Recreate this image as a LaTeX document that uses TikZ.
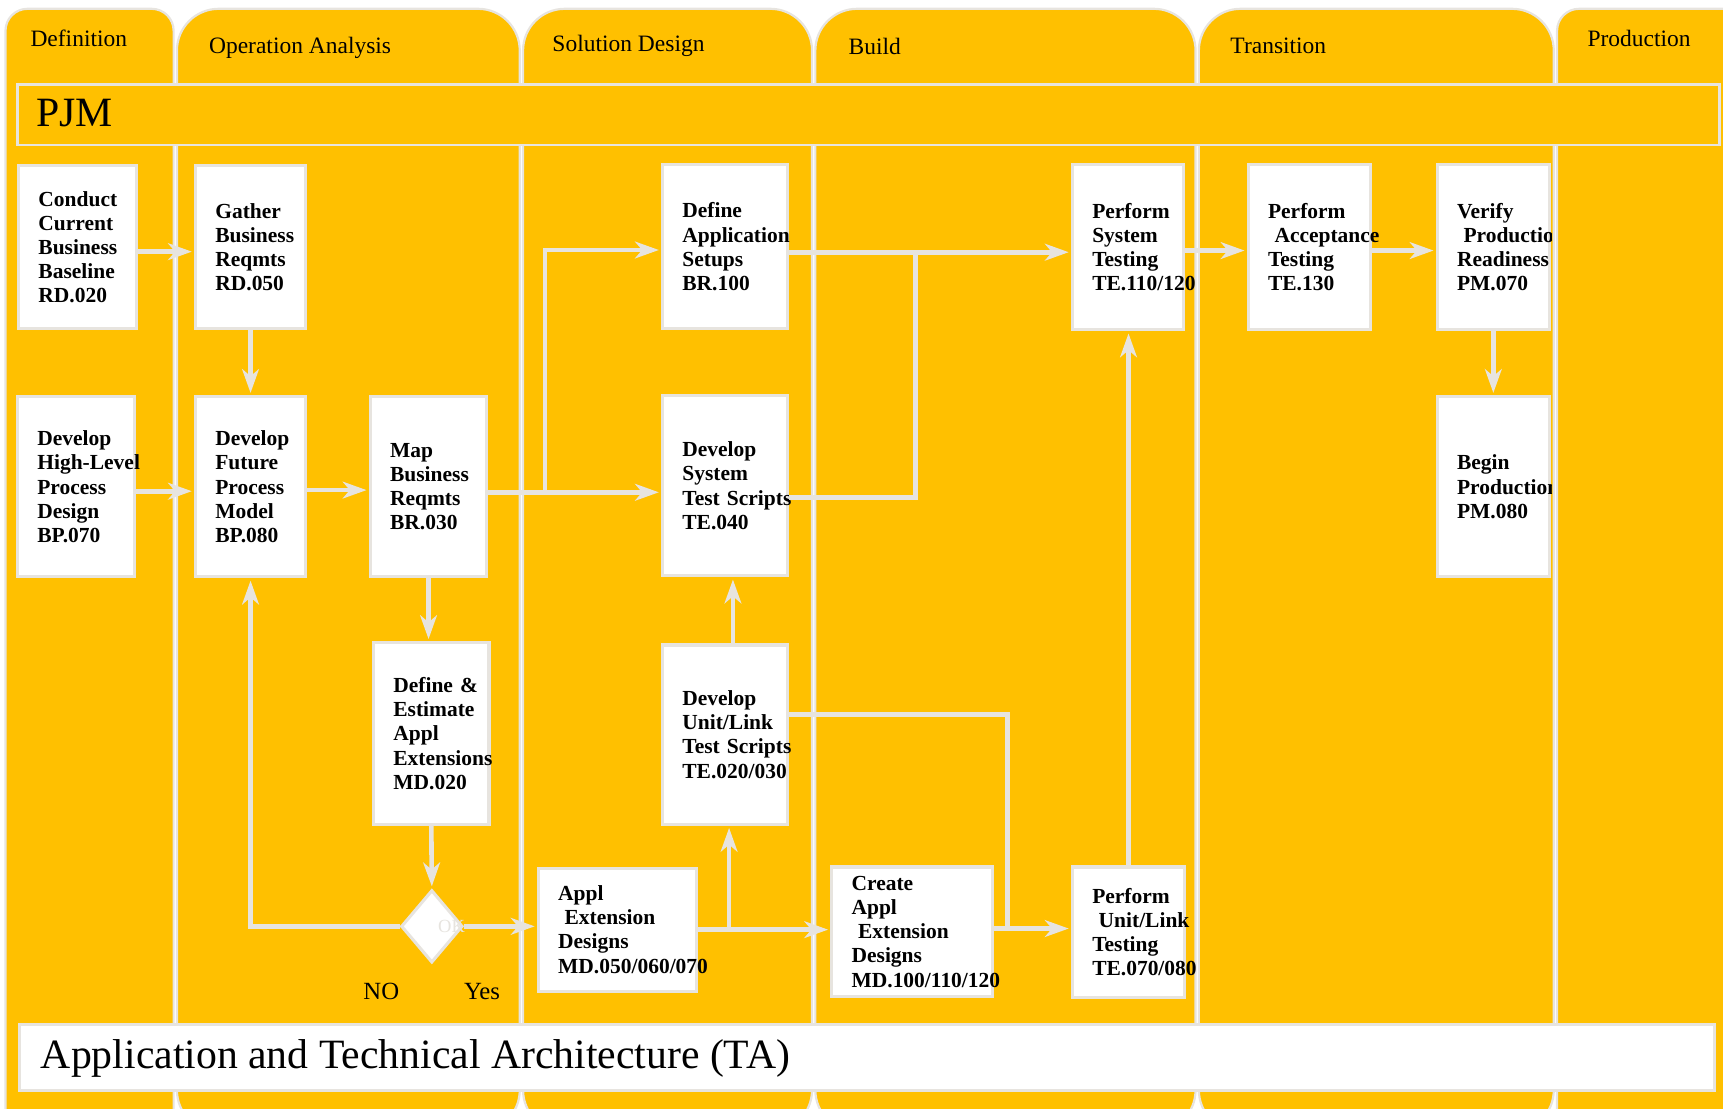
\documentclass[tikz,border=0pt]{standalone}
\usepackage{fontspec}
\setmainfont{Liberation Serif}
\usetikzlibrary{shapes.geometric,arrows.meta,positioning,calc}

\definecolor{phasegold}{HTML}{FFC000}
\definecolor{laneline}{HTML}{E7E4DF}

\tikzset{
  lane/.style={fill=phasegold, draw=laneline, line width=0.5mm},
  phase/.style={anchor=base west, inner sep=0pt, font=\fontsize{15.2}{18}\selectfont},
  taskbox/.style={draw=laneline, fill=white, line width=0.7mm, align=left, inner xsep=4.5mm, inner ysep=0pt,
    font={\bfseries\fontsize{13.9}{15.6}\selectfont\hyphenpenalty10000\exhyphenpenalty10000\relax}},
  flow/.style={draw=laneline, line width=1.05mm, -{Stealth[length=5.4mm, width=3.8mm, inset=1.6mm]}, shorten >=0.5mm},
  link/.style={draw=laneline, line width=1.05mm},
}

\begin{document}
\begin{tikzpicture}[x=0.025cm, y=-0.025cm]
    \useasboundingbox (0,0) rectangle (1568,1009);
    \clip (0,0) rectangle (1568,1009);

    % Phases
    \draw[lane, rounded corners=5mm] (5,8) rectangle (158,1030);
    \draw[lane, rounded corners=9.5mm] (161,8) rectangle (473,1030);
    \draw[lane, rounded corners=9.5mm] (476,8) rectangle (739,1030);
    \draw[lane, rounded corners=9.5mm] (742,8) rectangle (1088,1030);
    \draw[lane, rounded corners=9.5mm] (1091,8) rectangle (1414,1030);
    \draw[lane, rounded corners=5mm] (1417,8) rectangle (1600,1030);
    \node[phase] (defhead) at (27.5,42.5) {Definition};
    \node[phase] (opahead) at (190,48.5) {Operation Analysis};
    \node[phase] (solhead) at (502.5,47) {Solution Design};
    \node[phase] (buildhead) at (772,50) {Build};
    \node[phase] (transhead) at (1119.5,48.5) {Transition};
    \node[phase] (prodhead) at (1444.5,42.5) {Production};

    % Bands
    \draw[lane, line width=0.6mm] (16,77) rectangle (1565,132);
    \node[anchor=base west, inner sep=0pt, font=\fontsize{27}{32}\selectfont] (pjm) at (33,115) {PJM};
    \draw[draw=laneline, fill=white, line width=0.7mm] (18,932) rectangle (1560,992);
    \node[anchor=base west, inner sep=0pt, font=\fontsize{27}{32}\selectfont] (tarch) at (37,972) {Application and Technical Architecture (TA)};

    % Tasks, top row
    \node[taskbox, text width=17.75mm, minimum height=37mm] (conduct) at (70.5,225) {Conduct\\Current\\Business\\Baseline\\RD.020};
    \node[taskbox, text width=16mm, minimum height=37mm] (gather) at (228,225) {Gather\\Business\\Reqmts\\RD.050};
    \node[taskbox, text width=19.5mm, minimum height=37.25mm] (setups) at (660,224.5) {Define\\Application\\Setups\\BR.100};
    \node[taskbox, text width=16.25mm, minimum height=37.5mm] (systest) at (1026.5,225) {Perform\\System\\Testing\\TE.110/120};
    \node[taskbox, text width=18.75mm, minimum height=37.5mm] (accept) at (1191.5,225) {Perform\\\hspace*{0.3em}Acceptance\\Testing\\TE.130};
    \begin{scope}
        \clip (1306,148) rectangle (1412,302);
        \node[taskbox, text width=16.5mm, minimum height=37.5mm] (verify) at (1359,225) {Verify\\\hspace*{0.3em}Production\\Readiness\\PM.070};
    \end{scope}

    % Tasks, middle row
    \node[taskbox, text width=17.5mm, minimum height=41mm] (highlevel) at (69,443) {Develop\\\mbox{High-Level}\\Process\\Design\\BP.070};
    \node[taskbox, text width=16mm, minimum height=41mm] (future) at (228,443) {Develop\\Future\\Process\\Model\\BP.080};
    \node[taskbox, text width=17.5mm, minimum height=41mm] (mapreq) at (390,443) {Map\\Business\\Reqmts\\BR.030};
    \node[taskbox, text width=19.5mm, minimum height=41mm] (sysscripts) at (660,442) {Develop\\System\\Test~Scripts\\TE.040};
    \begin{scope}
        \clip (1306,359) rectangle (1412,527);
        \node[taskbox, text width=16.5mm, minimum height=41mm] (beginprod) at (1359,443) {Begin\\Production\\PM.080};
    \end{scope}

    % Tasks, lower rows
    \node[taskbox, text width=17.25mm, minimum height=41.25mm] (estimate) at (392.5,667.5) {Define~\&\\Estimate\\Appl\\Extensions\\MD.020};
    \node[taskbox, text width=19.5mm, minimum height=40.75mm] (unitscripts) at (660,668.5) {Develop\\Unit/Link\\Test~Scripts\\TE.020/030};
    \node[taskbox, text width=27mm, minimum height=28mm] (extdesign) at (562,846) {Appl\\\hspace*{0.3em}Extension\\Designs\\MD.050/060/070};
    \node[taskbox, text width=27.5mm, minimum height=29.5mm] (createext) at (830,848) {Create\\Appl\\\hspace*{0.3em}Extension\\Designs\\MD.100/110/120};
    \node[taskbox, text width=16.5mm, minimum height=29.75mm] (unittest) at (1027,848.5) {Perform\\\hspace*{0.3em}Unit/Link\\Testing\\TE.070/080};

    % Decision
    \node[draw=laneline, fill=white, diamond, line width=0.7mm, minimum width=14mm, minimum height=16.5mm, inner sep=0pt] (okcheck) at (393,843) {};
    \node[text=laneline, inner sep=0pt, font=\fontsize{12}{14}\selectfont] (oklabel) at (411,843) {OK};
    \node[anchor=base west, inner sep=0pt, font=\fontsize{16}{19}\selectfont] (nolabel) at (330.5,910) {NO};
    \node[anchor=base west, inner sep=0pt, font=\fontsize{16}{19}\selectfont] (yeslabel) at (422,910) {Yes};

    % Connectors
    \draw[flow] ([yshift=-1mm]conduct.east) -- ([yshift=-1mm]gather.west);
    \draw[flow] (gather.south) -- (future.north);
    \draw[flow] ([yshift=-1mm]highlevel.east) -- ([yshift=-1mm]future.west);
    \draw[flow] ([yshift=-0.75mm]future.east) -- ([yshift=-0.75mm]mapreq.west);
    \coordinate (mapout) at ([yshift=-1.25mm]mapreq.east);
    \draw[flow] (mapout) -- (mapout -| sysscripts.west);
    \coordinate (fork) at (496,448);
    \draw[flow] (fork) |- ([yshift=-0.75mm]setups.west);
    \draw[flow] (mapreq.south) -- (mapreq.south |- estimate.north);
    \draw[flow] (estimate.south) -- (okcheck.north);
    \draw[flow] (okcheck.east) -- (okcheck.east -| extdesign.west);
    \draw[flow] (okcheck.west) -| (future.south);
    \draw[flow] (extdesign.east) -- (extdesign.east -| createext.west);
    \coordinate (tap) at (663.5,846);
    \draw[flow] (tap) -- (tap |- unitscripts.south);
    \draw[flow] ([xshift=1.75mm]unitscripts.north) -- ([xshift=1.75mm]sysscripts.south);
    \coordinate (joint) at (917,845);
    \draw[link] ([yshift=4.6mm]unitscripts.east) -| (joint);
    \draw[flow] (createext.east |- joint) -- (joint -| unittest.west);
    \draw[flow] (unittest.north) -- (unittest.north |- systest.south);
    \coordinate (merge) at (833,229.5);
    \draw[flow] ([yshift=-1.25mm]setups.east) -- ([yshift=-1.25mm]setups.east -| systest.west);
    \draw[link] ([yshift=-2.75mm]sysscripts.east) -| (merge);
    \draw[flow] ([yshift=-0.75mm]systest.east) -- ([yshift=-0.75mm]accept.west);
    \draw[flow] ([yshift=-0.75mm]accept.east) -- ([yshift=-0.75mm]verify.west);
    \draw[flow] (verify.south) -- (beginprod.north);
\end{tikzpicture}
\end{document}
